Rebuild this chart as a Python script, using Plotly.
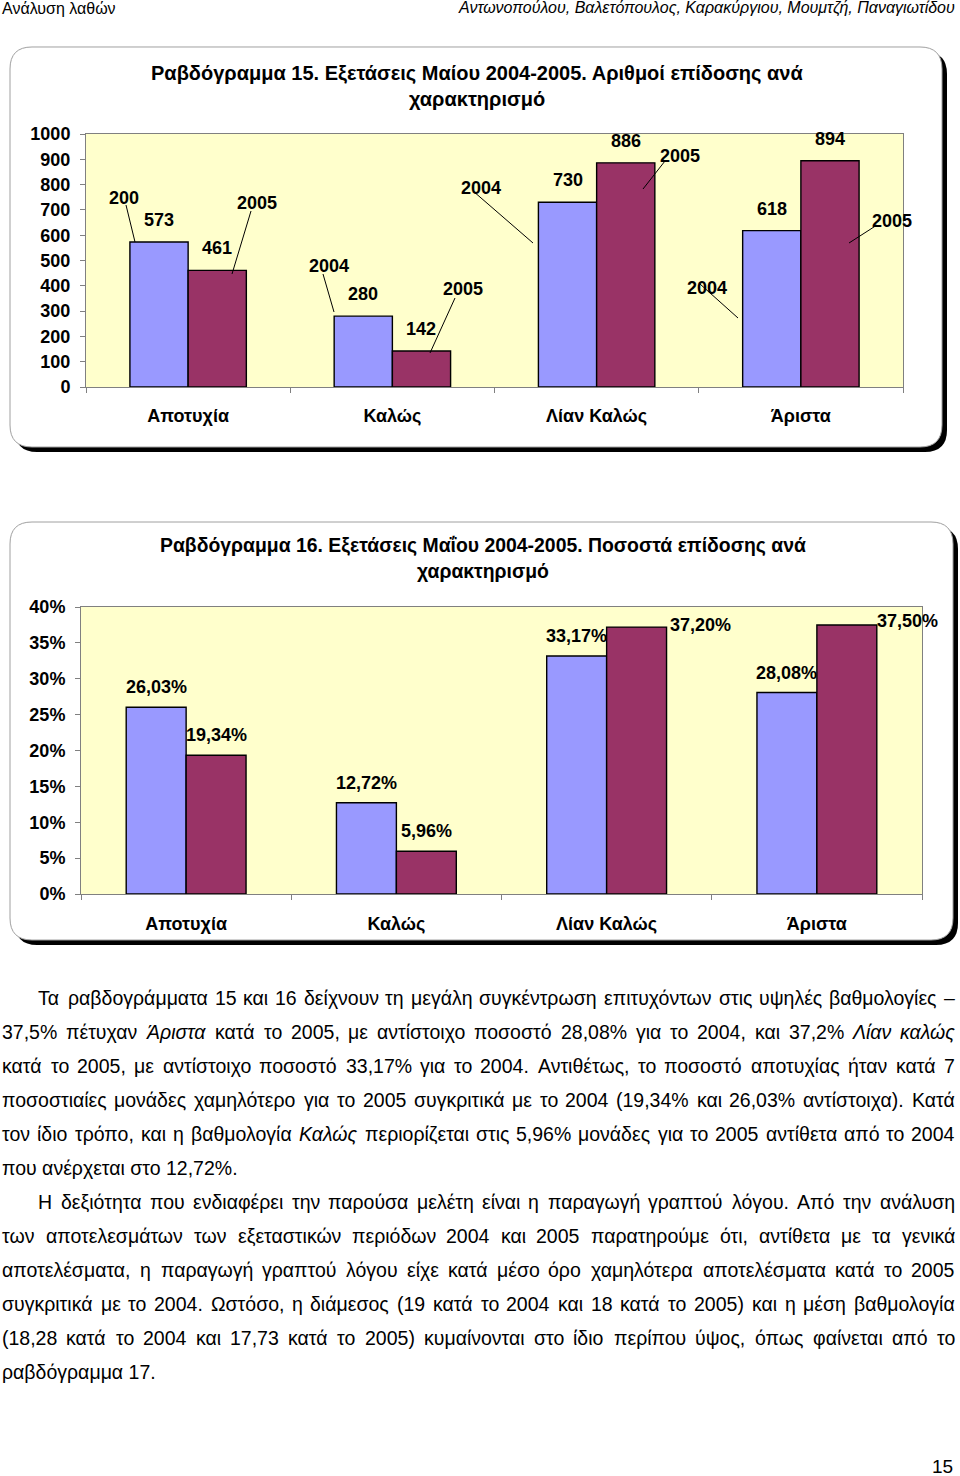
import plotly.graph_objects as go

W, H = 960, 1476


def fx(x):
    return x / W


def fy(y):
    return 1 - y / H


# ---------------- data ----------------
categories = ["Αποτυχία", "Καλώς", "Λίαν Καλώς", "Άριστα"]
years = ["2004", "2005"]
counts_2004 = [573, 280, 730, 618]
counts_2005 = [461, 142, 886, 894]
pct_2004 = [0.2603, 0.1272, 0.3317, 0.2808]
pct_2005 = [0.1934, 0.0596, 0.3720, 0.3750]
count_ticks = [0, 100, 200, 300, 400, 500, 600, 700, 800, 900, 1000]
pct_ticks = [0, 0.05, 0.10, 0.15, 0.20, 0.25, 0.30, 0.35, 0.40]
pct_tick_labels = ["0%", "5%", "10%", "15%", "20%", "25%", "30%", "35%", "40%"]

title1 = ["Ραβδόγραμμα 15. Εξετάσεις Μαίου 2004-2005. Αριθμοί επίδοσης ανά", "χαρακτηρισμό"]
title2 = ["Ραβδόγραμμα 16. Εξετάσεις Μαΐου 2004-2005. Ποσοστά επίδοσης ανά", "χαρακτηρισμό"]
header_left = "Ανάλυση λαθών"
header_right = "Αντωνοπούλου, Βαλετόπουλος, Καρακύργιου, Μουμτζή, Παναγιωτίδου"
page_number = "15"

body_lines = [
    "Τα ραβδογράμματα 15 και 16 δείχνουν τη μεγάλη συγκέντρωση επιτυχόντων στις υψηλές βαθμολογίες –",
    "37,5% πέτυχαν *Άριστα* κατά το 2005, με αντίστοιχο ποσοστό 28,08% για το 2004, και 37,2% *Λίαν* *καλώς*",
    "κατά το 2005, με αντίστοιχο ποσοστό 33,17% για το 2004. Αντιθέτως, το ποσοστό αποτυχίας ήταν κατά 7",
    "ποσοστιαίες μονάδες χαμηλότερο για το 2005 συγκριτικά με το 2004 (19,34% και 26,03% αντίστοιχα). Κατά",
    "τον ίδιο τρόπο, και η βαθμολογία *Καλώς* περιορίζεται στις 5,96% μονάδες για το 2005 αντίθετα από το 2004",
    "που ανέρχεται στο 12,72%.",
    "Η δεξιότητα που ενδιαφέρει την παρούσα μελέτη είναι η παραγωγή γραπτού λόγου. Από την ανάλυση",
    "των αποτελεσμάτων των εξεταστικών περιόδων 2004 και 2005 παρατηρούμε ότι, αντίθετα με τα γενικά",
    "αποτελέσματα, η παραγωγή γραπτού λόγου είχε κατά μέσο όρο χαμηλότερα αποτελέσματα κατά το 2005",
    "συγκριτικά με το 2004. Ωστόσο, η διάμεσος (19 κατά το 2004 και 18 κατά το 2005) και η μέση βαθμολογία",
    "(18,28 κατά το 2004 και 17,73 κατά το 2005) κυμαίνονται στο ίδιο περίπου ύψος, όπως φαίνεται από το",
    "ραβδόγραμμα 17.",
]

# ---------------- styles ----------------
FONT = "Liberation Sans, Arial, sans-serif"
C04 = "#9999FF"
C05 = "#993366"
PLOT_BG = "#FFFFCC"
AXIS_GRAY = "#808080"
BOLD18 = dict(family=FONT, size=18, color="black", weight="bold")

body_style = [  # (x start, justified)
    (38, True), (2, True), (2, True), (2, True), (2, True), (2, False),
    (38, True), (2, True), (2, True), (2, True), (2, True), (2, False),
]
BODY_Y0, BODY_DY, BODY_RIGHT, BODY_SIZE = 998, 34, 955, 19.5

# callouts of chart 15: text, label center, line start, line end (px)
callouts = [
    ("200", (124, 198), (126, 205), (135, 242)),
    ("2005", (257, 203), (251, 211), (232, 274)),
    ("2004", (329, 266), (323, 274), (334, 312)),
    ("2005", (463, 289), (455, 298), (430, 353)),
    ("2004", (481, 188), (473, 191), (533, 243)),
    ("2005", (680, 156), (665, 161), (643, 189)),
    ("2004", (707, 288), (700, 284), (738, 318)),
    ("2005", (892, 221), (877, 225), (849, 243)),
]
pct_label_shift = {(1, 2): (64, 2), (1, 3): (61, 4)}

fig = go.Figure()

BAR_LINE = dict(color="black", width=1.4)
for vals, col, nm in [(counts_2004, C04, years[0]), (counts_2005, C05, years[1])]:
    fig.add_trace(go.Bar(x=categories, y=vals, name=nm, marker=dict(color=col, line=BAR_LINE),
                         xaxis="x", yaxis="y", showlegend=False, hoverinfo="skip"))
for vals, col, nm in [(pct_2004, C04, years[0]), (pct_2005, C05, years[1])]:
    fig.add_trace(go.Bar(x=categories, y=vals, name=nm, marker=dict(color=col, line=BAR_LINE),
                         xaxis="x2", yaxis="y2", showlegend=False, hoverinfo="skip"))


def rounded_path(x0, y0, x1, y1, r):
    pts = [
        ("M", (x0 + r, y0)), ("L", (x1 - r, y0)), ("Q", (x1, y0), (x1, y0 + r)),
        ("L", (x1, y1 - r)), ("Q", (x1, y1), (x1 - r, y1)), ("L", (x0 + r, y1)),
        ("Q", (x0, y1), (x0, y1 - r)), ("L", (x0, y0 + r)), ("Q", (x0, y0), (x0 + r, y0)),
    ]
    out = []
    for p in pts:
        cmd = p[0]
        coords = " ".join(f"{fx(a):.5f},{fy(b):.5f}" for a, b in p[1:])
        out.append(f"{cmd}{coords}")
    return " ".join(out) + " Z"


shapes = []
for (x0, y0, x1, y1) in [(10, 47, 942, 447), (10, 522, 953, 940)]:
    shapes.append(dict(type="path", xref="paper", yref="paper", layer="below",
                       path=rounded_path(x0 + 5, y0 + 5, x1 + 5, y1 + 5, 22),
                       fillcolor="black", line=dict(width=0)))
    shapes.append(dict(type="path", xref="paper", yref="paper", layer="below",
                       path=rounded_path(x0, y0, x1, y1, 22),
                       fillcolor="white", line=dict(color="#A0A0A0", width=1)))
for xr, yr in [("x domain", "y domain"), ("x2 domain", "y2 domain")]:
    shapes.append(dict(type="rect", xref=xr, yref=yr, x0=0, x1=1, y0=0, y1=1, layer="below",
                       fillcolor=PLOT_BG, line=dict(width=0)))
for _, _, p0, p1 in callouts:
    shapes.append(dict(type="line", xref="paper", yref="paper", layer="above",
                       x0=fx(p0[0]), y0=fy(p0[1]), x1=fx(p1[0]), y1=fy(p1[1]),
                       line=dict(color="black", width=1)))

ann = []


def A(text, x, y, size=18, bold=False, italic=False, xanchor="center", yanchor="middle",
      xref="paper", yref="paper", xshift=0, yshift=0):
    f = dict(family=FONT, size=size, color="black")
    if bold:
        f["weight"] = "bold"
    if italic:
        f["style"] = "italic"
    ann.append(dict(text=text, x=x, y=y, xref=xref, yref=yref, showarrow=False, font=f,
                    xanchor=xanchor, yanchor=yanchor, borderpad=0, borderwidth=0,
                    xshift=xshift, yshift=yshift))


# titles
A(title1[0], fx(477), fy(73), size=20, bold=True)
A(title1[1], fx(477), fy(99), size=20, bold=True)
A(title2[0], fx(483), fy(545), size=19.4, bold=True)
A(title2[1], fx(483), fy(571), size=19.4, bold=True)

# data labels
half = 0.57 / 4
for si, vals in enumerate([counts_2004, counts_2005]):
    for ci, v in enumerate(vals):
        A(f"{v}", ci + (-half if si == 0 else half), v, bold=True, xref="x", yref="y", yshift=22)
for si, vals in enumerate([pct_2004, pct_2005]):
    for ci, v in enumerate(vals):
        dx, dy = pct_label_shift.get((si, ci), (0, 20))
        A(f"{v * 100:.2f}%".replace(".", ","), ci + (-half if si == 0 else half), v,
          bold=True, xref="x2", yref="y2", xshift=dx, yshift=dy)
for txt, (lx, ly), _, _ in callouts:
    A(txt, fx(lx), fy(ly), bold=True)

# header / footer
A(header_left, fx(2), fy(8), size=16, xanchor="left")
A(header_right, fx(955), fy(8), size=16, italic=True, xanchor="right")
A(page_number, fx(953), fy(1466), size=19, xanchor="right")

# body text with justification
CW = {' ': 278, ',': 278, '.': 278, '%': 889, '(': 333, ')': 333, '–': 556, '-': 333,
      'α': 578, 'ά': 578, 'β': 575, 'γ': 500, 'δ': 557, 'ε': 446, 'έ': 446, 'ζ': 441,
      'η': 557, 'ή': 557, 'θ': 556, 'ι': 222, 'ί': 222, 'ϊ': 222, 'ΐ': 222, 'κ': 500,
      'λ': 500, 'μ': 576, 'ν': 500, 'ξ': 449, 'ο': 556, 'ό': 556, 'π': 690, 'ρ': 571,
      'σ': 617, 'ς': 482, 'τ': 395, 'υ': 556, 'ύ': 556, 'φ': 648, 'χ': 525, 'ψ': 713,
      'ω': 781, 'ώ': 781, 'Α': 667, 'Ά': 667, 'Β': 667, 'Γ': 551, 'Δ': 668, 'Ε': 667,
      'Η': 722, 'Θ': 778, 'Ι': 278, 'Κ': 667, 'Λ': 668, 'Μ': 833, 'Ν': 722, 'Ξ': 650,
      'Ο': 778, 'Π': 722, 'Ρ': 667, 'Σ': 618, 'Τ': 611, 'Υ': 667, 'Φ': 797, 'Χ': 667,
      'Ψ': 835, 'Ω': 748}


def tw(s):
    return sum(CW.get(c, 556) for c in s) * BODY_SIZE / 1000


for li, (line, (x0, just)) in enumerate(zip(body_lines, body_style)):
    y = fy(BODY_Y0 + li * BODY_DY)
    words = line.split(" ")
    if not just:
        A(line.replace("*", ""), fx(x0), y, size=BODY_SIZE, xanchor="left")
        continue
    plain = [w.replace("*", "") for w in words]
    ws = [tw(p) for p in plain]
    gap = (BODY_RIGHT - x0 - sum(ws)) / (len(words) - 1)
    cx = x0
    for wi, (w, p, wd) in enumerate(zip(words, plain, ws)):
        ital = w.startswith("*")
        if wi == 0:
            A(p, fx(x0), y, size=BODY_SIZE, italic=ital, xanchor="left")
        elif wi == len(words) - 1:
            A(p, fx(BODY_RIGHT), y, size=BODY_SIZE, italic=ital, xanchor="right")
        else:
            A(p, fx(cx + wd / 2), y, size=BODY_SIZE, italic=ital, xanchor="center")
        cx += wd + gap

axis_common = dict(showline=True, linecolor=AXIS_GRAY, linewidth=1, mirror=True,
                   ticks="outside", tickcolor=AXIS_GRAY, ticklen=5, showgrid=False,
                   zeroline=False, fixedrange=True, tickfont=BOLD18, automargin=False)

fig.update_layout(
    width=W, height=H, margin=dict(l=0, r=0, t=0, b=0, pad=0, autoexpand=False),
    autosize=False,
    paper_bgcolor="white", plot_bgcolor="rgba(0,0,0,0)",
    font=dict(family=FONT, color="black"),
    barmode="group", bargap=0.43, bargroupgap=0,
    showlegend=False,
    xaxis=dict(domain=[fx(86), fx(903)], anchor="y", type="category", range=[-0.5, 3.5],
               tickson="boundaries", ticklabelstandoff=12, **axis_common),
    yaxis=dict(domain=[fy(387), fy(134)], anchor="x", range=[0, 1000], tickvals=count_ticks,
               ticklabelstandoff=6, **axis_common),
    xaxis2=dict(domain=[fx(81), fx(922)], anchor="y2", type="category", range=[-0.5, 3.5],
                tickson="boundaries", ticklabelstandoff=13, **axis_common),
    yaxis2=dict(domain=[fy(894), fy(607)], anchor="x2", range=[0, 0.4], tickvals=pct_ticks,
                ticktext=pct_tick_labels, ticklabelstandoff=6, **axis_common),
    shapes=shapes, annotations=ann,
)

# place the figure at the page origin (remove the browser's default body margin)
post = ("document.documentElement.style.margin='0';"
        "document.body.style.margin='0';document.body.style.overflow='hidden';"
        "var gd=document.getElementById('{plot_id}');"
        "gd.style.position='absolute';gd.style.left='0px';gd.style.top='0px';")

fig.write_html("out.html", post_script=post, config={"displayModeBar": False})
